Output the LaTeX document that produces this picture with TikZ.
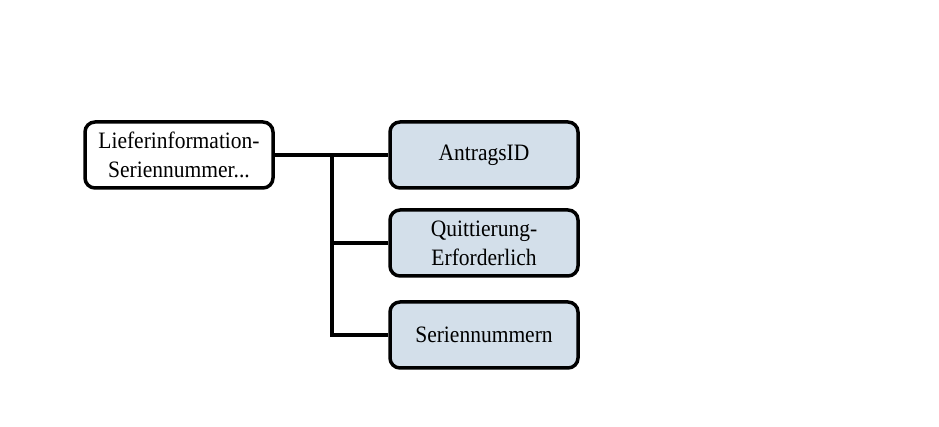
\documentclass[tikz,border=0pt]{standalone}
\usepackage{fontspec}
\setmainfont{Liberation Serif}[FakeStretch=0.915]
\definecolor{boxblue}{HTML}{D3DFEA}
\begin{document}
\begin{tikzpicture}[x=1pt,y=1pt,
  box/.style={draw=black, line width=3.5pt, rounded corners=10pt, minimum width=188pt, minimum height=66pt, align=center, inner sep=2pt, font=\fontsize{23.5}{29}\selectfont},
  child/.style={box, fill=boxblue},
  conn/.style={draw=black, line width=3.5pt}]
\useasboundingbox (0,0) rectangle (939,427);
\fill[white] (0,0) rectangle (939,427);
\node[box, fill=white] (root) at (179,272) {Lieferinformation-\\Seriennummer...};
\node[child] (a) at (484,272) {AntragsID};
\node[child] (b) at (484,184) {Quittierung-\\Erforderlich};
\node[child] (c) at (484,92) {Seriennummern};
\coordinate (j) at (332,272);
\draw[conn] (root.east) -- (a.west);
\draw[conn] (j) |- (b.west);
\draw[conn, line join=miter] (j) |- (c.west);
\end{tikzpicture}
\end{document}
